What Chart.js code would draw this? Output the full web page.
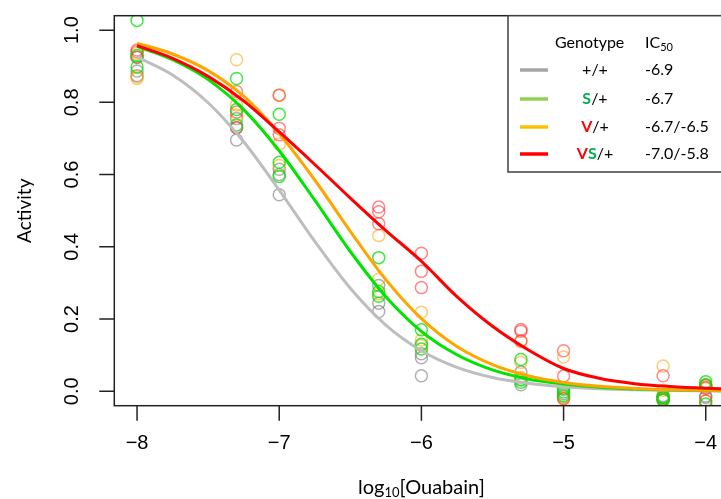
<!DOCTYPE html>
<html>
<head>
<meta charset="utf-8">
<script src="https://cdn.jsdelivr.net/npm/chart.js@4/dist/chart.umd.min.js"></script>
<style>
html,body{margin:0;padding:0;background:#fff;overflow:hidden;}
#wrap{width:721px;height:499px;overflow:hidden;position:relative;}
canvas{display:block;}
</style>
</head>
<body>
<div id="wrap"><canvas id="c" width="740" height="499"></canvas></div>
<script>
// ---- data ----
const concLog = [-8, -7.3, -7, -6.3, -6, -5.3, -5, -4.3, -4];
// replicate activities at each concentration
const wtPts = [[0.925,0.887,0.874],[0.755,0.73,0.696],[0.615,0.6,0.544],[0.293,0.244,0.221],[0.104,0.093,0.043],[0.053,0.033,0.018],[0.005,-0.007,-0.015],[-0.012,-0.017,-0.022],[-0.013,0.012,-0.017]];
const sPts  = [[1.027,0.93,0.898],[0.866,0.78,0.737],[0.767,0.634,0.595],[0.37,0.276,0.263],[0.17,0.13,0.117],[0.088,0.031,0.025],[0.008,-0.002,-0.012],[-0.015,-0.019,-0.025],[0.026,0.017,-0.035]];
const vPts  = [[0.935,0.870,0.866],[0.918,0.793,0.765],[0.82,0.685,0.625],[0.431,0.31,0.27],[0.219,0.142,0.127],[0.137,0.08,0.038],[0.095,-0.017,-0.02],[0.07,0.003,-0.022],[0.011,0.017,-0.027]];
const vsPts = [[0.945,0.94,0.925],[0.83,0.773,0.73],[0.82,0.728,0.71],[0.51,0.497,0.464],[0.382,0.332,0.287],[0.171,0.166,0.14],[0.112,0.042,-0.021],[0.043,-0.017,-0.024],[0.017,0.008,-0.027]];
// fitted curves read at these x positions
const curveX  = [-8,-7.75,-7.5,-7.25,-7,-6.75,-6.5,-6.25,-6,-5.75,-5.5,-5.25,-5,-4.75,-4.5,-4.25,-4,-3.84];
const wtCurve = [0.926,0.876,0.799,0.691,0.557,0.415,0.285,0.183,0.112,0.066,0.038,0.022,0.0124,0.007,0.004,0.0022,0.0013,0.0009];
const sCurve  = [0.955,0.918,0.863,0.780,0.666,0.529,0.387,0.262,0.166,0.101,0.059,0.034,0.020,0.011,0.0063,0.0035,0.002,0.0014];
const vCurve  = [0.964,0.934,0.888,0.817,0.713,0.585,0.443,0.309,0.201,0.124,0.074,0.043,0.0245,0.0139,0.0079,0.0044,0.0025,0.0017];
const vsCurve = [0.957,0.922,0.872,0.804,0.718,0.628,0.535,0.445,0.36,0.262,0.18,0.115,0.063,0.036,0.021,0.013,0.008,0.006];
const xTicks = [-8,-7,-6,-5,-4];
const yTicks = [0,0.2,0.4,0.6,0.8,1.0];
const legendRows = [
  {parts:[['+/+','#000',false]], ic:'-6.9', color:'#a6a6a6'},
  {parts:[['S','#00b050',true],['/+','#000',false]], ic:'-6.7', color:'#92d050'},
  {parts:[['V','#ff0000',true],['/+','#000',false]], ic:'-6.7/-6.5', color:'#ffc000'},
  {parts:[['V','#ff0000',true],['S','#00b050',true],['/+','#000',false]], ic:'-7.0/-5.8', color:'#ff0000'}
];

function pts(reps){
  const out=[];
  reps.forEach((r,i)=>r.forEach(v=>out.push({x:concLog[i],y:v})));
  return out;
}
function curve(ys){ return curveX.map((x,i)=>({x:x,y:ys[i]})); }

function scatterDs(reps,color,order){
  return {type:'scatter',data:pts(reps),showLine:false,pointRadius:6,pointBorderWidth:1.5,
    pointBorderColor:color,pointBackgroundColor:'rgba(0,0,0,0)',pointHoverRadius:6,order:order};
}
function lineDs(ys,color,order){
  return {type:'scatter',data:curve(ys),showLine:true,pointRadius:0,borderColor:color,borderWidth:3,
    cubicInterpolationMode:'monotone',fill:false,order:order};
}

const NUMFONT = '20px "Liberation Sans", Arial, sans-serif';
const LABFONT = '"Lato", "Open Sans", sans-serif';

const decor = {
  id:'decor',
  afterDraw(chart){
    const ctx=chart.ctx, a=chart.chartArea, xs=chart.scales.x, ys=chart.scales.y;
    ctx.save();
    ctx.strokeStyle='#222'; ctx.lineWidth=1.5;
    ctx.strokeRect(a.left,a.top,a.right-a.left,a.bottom-a.top);
    ctx.beginPath();
    xTicks.forEach(t=>{const p=xs.getPixelForValue(t); ctx.moveTo(p,a.bottom); ctx.lineTo(p,a.bottom+15);});
    yTicks.forEach(t=>{const p=ys.getPixelForValue(t); ctx.moveTo(a.left,p); ctx.lineTo(a.left-15,p);});
    ctx.stroke();
    ctx.fillStyle='#000'; ctx.font=NUMFONT; ctx.textAlign='center'; ctx.textBaseline='middle';
    xTicks.forEach(t=>{ctx.fillText('\u2212'+Math.abs(t), xs.getPixelForValue(t), 443);});
    yTicks.forEach(t=>{
      const p=ys.getPixelForValue(t);
      ctx.save(); ctx.translate(72,p); ctx.rotate(-Math.PI/2); ctx.fillText(t.toFixed(1),0,0); ctx.restore();
    });
    const cx=(a.left+a.right)/2, cy=(a.top+a.bottom)/2;
    ctx.save(); ctx.translate(25,cy); ctx.rotate(-Math.PI/2);
    ctx.font='19px '+LABFONT; ctx.fillText('Activity',0,0); ctx.restore();
    ctx.font='20px '+LABFONT;
    const w1=ctx.measureText('log').width, w3=ctx.measureText('[Ouabain]').width;
    ctx.font='13px '+LABFONT; const w2=ctx.measureText('10').width;
    let x0=cx-(w1+w2+w3)/2, by=487;
    ctx.textAlign='left'; ctx.textBaseline='alphabetic';
    ctx.font='20px '+LABFONT; ctx.fillText('log',x0,by+7);
    ctx.font='13px '+LABFONT; ctx.fillText('10',x0+w1,by+10);
    ctx.font='20px '+LABFONT; ctx.fillText('[Ouabain]',x0+w1+w2,by+7);
    // legend
    const lx=508, ltop=a.top, lbot=172;
    ctx.fillStyle='#fff'; ctx.fillRect(lx,ltop,760-lx,lbot-ltop);
    ctx.strokeStyle='#404040'; ctx.lineWidth=1.5; ctx.strokeRect(lx,ltop,760-lx,lbot-ltop);
    ctx.fillStyle='#000'; ctx.textBaseline='middle';
    ctx.font='16px '+LABFONT; ctx.textAlign='left';
    ctx.fillText('Genotype',555,43);
    ctx.fillText('IC',645,43);
    const icw=ctx.measureText('IC').width;
    ctx.font='11px '+LABFONT; ctx.fillText('50',645+icw,47);
    const rowY=[70,99,127,154];
    legendRows.forEach((r,i)=>{
      const y=rowY[i];
      ctx.strokeStyle=r.color; ctx.lineWidth=3.5;
      ctx.beginPath(); ctx.moveTo(520,y); ctx.lineTo(548,y); ctx.stroke();
      const f=p=>(p[2]?'bold ':'')+'16px '+LABFONT;
      let tw=0; r.parts.forEach(p=>{ctx.font=f(p); tw+=ctx.measureText(p[0]).width;});
      let x=595-tw/2;
      r.parts.forEach(p=>{ctx.font=f(p); ctx.fillStyle=p[1]; ctx.fillText(p[0],x,y); x+=ctx.measureText(p[0]).width;});
      ctx.font='16px '+LABFONT;
      ctx.fillStyle='#000'; ctx.fillText(r.ic,645,y);
    });
    ctx.restore();
  }
};

new Chart(document.getElementById('c'),{
  data:{datasets:[
    scatterDs(wtPts,'rgba(110,110,110,0.55)',14),
    scatterDs(vPts,'rgba(255,160,0,0.55)',13),
    scatterDs(vsPts,'rgba(255,40,40,0.55)',12),
    scatterDs(sPts,'rgba(0,225,0,0.75)',11),
    lineDs(wtCurve,'#bebebe',4),
    lineDs(sCurve,'#00e400',3),
    lineDs(vCurve,'#ffa500',2),
    lineDs(vsCurve,'#ff0000',1)
  ]},
  options:{
    responsive:false, animation:false, devicePixelRatio:1,
    layout:{padding:{left:114.3,top:15.7,right:740-728.5,bottom:499-405.7}},
    plugins:{legend:{display:false},tooltip:{enabled:false}},
    scales:{
      x:{type:'linear',min:-8.16,max:-3.84,display:false},
      y:{type:'linear',min:-0.04,max:1.04,display:false}
    }
  },
  plugins:[decor]
});
</script>
</body>
</html>
